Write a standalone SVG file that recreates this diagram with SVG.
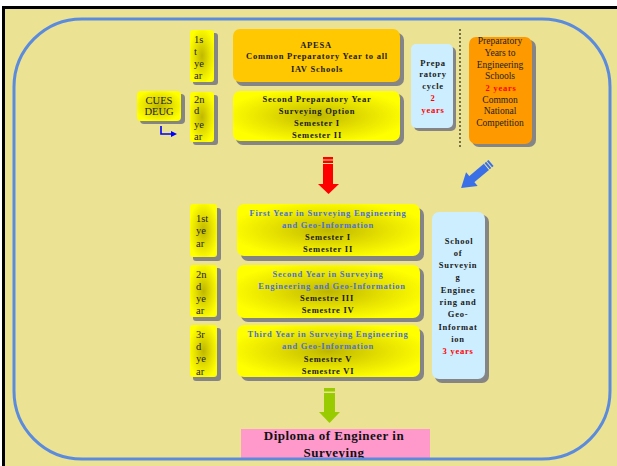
<svg xmlns="http://www.w3.org/2000/svg" width="617" height="466" viewBox="0 0 617 466">
<defs>
<radialGradient id="yg" cx="50%" cy="50%" r="55%">
<stop offset="0" stop-color="#bfb700"/>
<stop offset="0.55" stop-color="#e6e000"/>
<stop offset="1" stop-color="#ffff00"/>
</radialGradient>
<style>
.sh{fill:#858585}
.yb{fill:url(#yg)}
.yr{font-family:"Liberation Serif",serif;font-size:10.5px;fill:#222}
.b{font-family:"Liberation Serif",serif;font-size:8.5px;font-weight:bold;letter-spacing:0.75px;fill:#1a1a1a;text-anchor:middle}
.bt{fill:#4a70d8}
.red{fill:#ff0000}
.or{font-family:"Liberation Serif",serif;font-size:9.5px;fill:#222;text-anchor:middle}
</style>
</defs>
<rect x="0" y="0" width="617" height="466" fill="#ffffff"/>
<rect x="2" y="6" width="615" height="460" fill="#000000"/>
<rect x="5" y="9" width="612" height="457" fill="#ebe294"/>

<g id="cues">
<rect class="sh" x="140" y="94" width="45" height="30" rx="4"/>
<rect class="yb" x="137" y="91" width="44" height="30" rx="4"/>
<text class="yr" x="159" y="103.5" text-anchor="middle" font-size="10">CUES</text>
<text class="yr" x="159" y="114.5" text-anchor="middle" font-size="10">DEUG</text>
</g>

<g id="y1top">
<rect class="sh" x="193" y="33" width="25" height="52" rx="3"/>
<rect class="yb" x="190" y="30" width="24" height="52" rx="3"/>
<text class="yr" x="194" y="43">1s</text>
<text class="yr" x="194" y="55">t</text>
<text class="yr" x="194" y="67">ye</text>
<text class="yr" x="194" y="79">ar</text>
</g>
<g id="y2top">
<rect class="sh" x="193" y="95" width="25" height="50" rx="3"/>
<rect class="yb" x="190" y="92" width="24" height="50" rx="3"/>
<text class="yr" x="194" y="102.5">2n</text>
<text class="yr" x="194" y="114">d</text>
<text class="yr" x="194" y="127.5">ye</text>
<text class="yr" x="194" y="139.5">ar</text>
</g>

<g id="apesa">
<rect class="sh" x="236" y="33" width="168" height="53" rx="7"/>
<rect x="233" y="29" width="167" height="53" rx="7" fill="#ffc800"/>
<text class="b" x="316" y="47.5">APESA</text>
<text class="b" x="317" y="59" letter-spacing="0.65">Common Preparatory Year to all</text>
<text class="b" x="317" y="72">IAV Schools</text>
</g>

<g id="secondprep">
<rect class="sh" x="236" y="94" width="168" height="51" rx="7"/>
<rect class="yb" x="233" y="91" width="167" height="50" rx="7"/>
<text class="b" x="317" y="102" letter-spacing="0.7">Second Preparatory Year</text>
<text class="b" x="317" y="113.5">Surveying Option</text>
<text class="b" x="317" y="125.5">Semester I</text>
<text class="b" x="317" y="138">Semester II</text>
</g>

<g id="prepcycle">
<rect class="sh" x="414" y="47" width="42" height="84" rx="5"/>
<rect x="411" y="44" width="42" height="84" rx="5" fill="#cceeff"/>
<text class="b" x="433" y="65.5">Prepa</text>
<text class="b" x="433" y="77">ratory</text>
<text class="b" x="433" y="89">cycle</text>
<text class="b red" x="433" y="101">2</text>
<text class="b red" x="433" y="113">years</text>
</g>

<g id="prepyears">
<rect class="sh" x="472" y="40" width="64" height="107" rx="7"/>
<rect x="469" y="37" width="63" height="107" rx="7" fill="#ff9900"/>
<text class="or" x="500" y="44">Preparatory</text>
<text class="or" x="500" y="56">Years to</text>
<text class="or" x="500" y="67.5">Engineering</text>
<text class="or" x="500" y="79">Schools</text>
<text class="b red" x="501" y="90.5" letter-spacing="0.7">2 years</text>
<text class="or red" x="500" y="102.5">Common</text>
<text class="or red" x="500" y="114">National</text>
<text class="or red" x="500" y="125.5">Competition</text>
</g>

<g id="y1">
<rect class="sh" x="193" y="208" width="28" height="53" rx="3"/>
<rect class="yb" x="190" y="204" width="27" height="53" rx="3"/>
<text class="yr" x="196" y="221.5">1st</text>
<text class="yr" x="196" y="234">ye</text>
<text class="yr" x="196" y="246.5">ar</text>
</g>
<g id="y2">
<rect class="sh" x="193" y="268" width="28" height="53" rx="3"/>
<rect class="yb" x="190" y="265" width="27" height="52" rx="3"/>
<text class="yr" x="196" y="277.5">2n</text>
<text class="yr" x="196" y="289.5">d</text>
<text class="yr" x="196" y="301.5">ye</text>
<text class="yr" x="196" y="314">ar</text>
</g>
<g id="y3">
<rect class="sh" x="193" y="328" width="28" height="53" rx="3"/>
<rect class="yb" x="190" y="325" width="27" height="52" rx="3"/>
<text class="yr" x="196" y="337.5">3r</text>
<text class="yr" x="196" y="350">d</text>
<text class="yr" x="196" y="362">ye</text>
<text class="yr" x="196" y="374.5">ar</text>
</g>

<g id="year1">
<rect class="sh" x="241" y="208" width="183" height="53" rx="7"/>
<rect class="yb" x="237" y="204" width="183" height="52" rx="7"/>
<text class="b bt" x="328" y="216">First Year in Surveying Engineering</text>
<text class="b bt" x="328" y="227.5">and Geo-Information</text>
<text class="b" x="328" y="239.5">Semester I</text>
<text class="b" x="328" y="252">Semester II</text>
</g>
<g id="year2">
<rect class="sh" x="241" y="268" width="183" height="54" rx="7"/>
<rect class="yb" x="237" y="265" width="183" height="53" rx="7"/>
<text class="b bt" x="328" y="276.5">Second Year in Surveying</text>
<text class="b bt" x="332" y="288.5" letter-spacing="0.65">Engineering and Geo-Information</text>
<text class="b" x="327" y="300.5">Semestre III</text>
<text class="b" x="328" y="313">Semestre IV</text>
</g>
<g id="year3">
<rect class="sh" x="241" y="329" width="183" height="52" rx="7"/>
<rect class="yb" x="237" y="325" width="183" height="52" rx="7"/>
<text class="b bt" x="328" y="336.5">Third Year in Surveying Engineering</text>
<text class="b bt" x="328" y="349">and Geo-Information</text>
<text class="b" x="328" y="361.5">Semestre V</text>
<text class="b" x="328" y="373.5">Semestre VI</text>
</g>

<g id="school">
<rect class="sh" x="435" y="215" width="54" height="168" rx="7"/>
<rect x="432" y="212" width="53" height="167" rx="7" fill="#cceeff"/>
<text class="b" x="459" y="244">School</text>
<text class="b" x="458" y="255.5">of</text>
<text class="b" x="458" y="268">Surveyin</text>
<text class="b" x="458" y="280">g</text>
<text class="b" x="458" y="293">Enginee</text>
<text class="b" x="458" y="305">ring and</text>
<text class="b" x="458" y="317">Geo-</text>
<text class="b" x="458" y="330">Informat</text>
<text class="b" x="458" y="342">ion</text>
<text class="b red" x="458" y="354">3 years</text>
</g>

<g id="diploma">
<rect x="241" y="429" width="189" height="31" fill="#ff99cc"/>
<text x="334" y="440" text-anchor="middle" font-family="Liberation Serif, serif" font-size="13px" font-weight="bold" letter-spacing="0.5" fill="#111">Diploma of Engineer in</text>
<text x="334" y="456.5" text-anchor="middle" font-family="Liberation Serif, serif" font-size="13px" font-weight="bold" letter-spacing="0.5" fill="#111">Surveying</text>
</g>

<g id="connectors">
<rect x="14" y="19" width="596" height="440" rx="68" fill="none" stroke="#5b8bdc" stroke-width="3"/>
<line x1="460" y1="29" x2="460" y2="149" stroke="#000" stroke-width="1" stroke-dasharray="2 2"/>
<path d="M161 126 V134 H172" fill="none" stroke="#0000ff" stroke-width="1.6"/>
<path d="M171 131 L177 134 L171 137 Z" fill="#0000ff"/>
<g fill="#ff0000">
<rect x="323" y="157" width="10" height="2.5"/>
<rect x="323" y="160.5" width="10" height="2.5"/>
<rect x="323" y="164" width="10" height="21"/>
<path d="M318 184 H339 L328.5 194 Z"/>
</g>
<g fill="#3a6fe8" transform="translate(491,163) rotate(140)">
<rect x="0" y="-4" width="2" height="8"/>
<rect x="3" y="-4" width="2" height="8"/>
<rect x="6" y="-4" width="20" height="8"/>
<path d="M25 -9 L39 0 L25 9 Z"/>
</g>
<g fill="#99cc00">
<rect x="324" y="388" width="11" height="3.5"/>
<rect x="324" y="393" width="11" height="20"/>
<path d="M319 412 H340 L329.5 423 Z"/>
</g>
</g>
</svg>
